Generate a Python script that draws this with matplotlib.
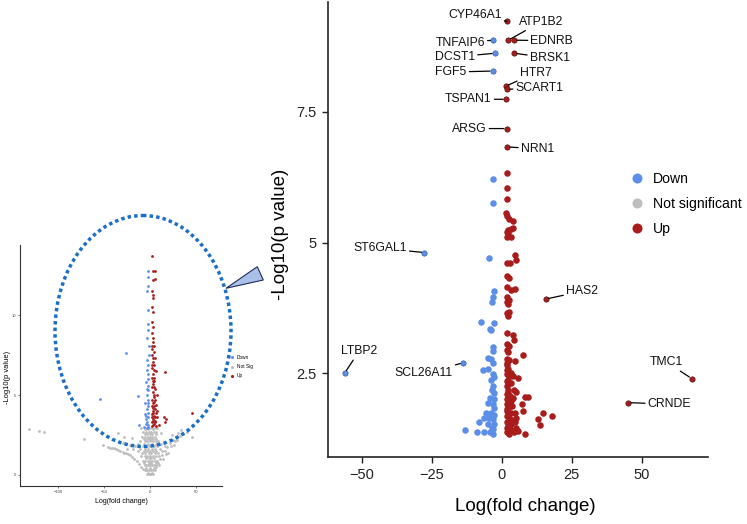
import numpy as np
import matplotlib
matplotlib.use('Agg')
import matplotlib.pyplot as plt
from matplotlib.patches import Ellipse, Polygon
from matplotlib.lines import Line2D

plt.rcParams['font.family'] = ['Liberation Sans', 'DejaVu Sans']

# colours
c_down = '#5b8ee6'
c_ns = '#bdbdbd'
c_up = '#a81c1c'

# ---------------- main volcano data ----------------
down_points = [(-3.0, 6.21), (-3.1, 5.75), (-4.6, 4.71), (-2.7, 4.08), (-3.0, 3.95), (-3.3, 3.87),
               (-7.4, 3.48), (-2.7, 3.46), (-4.3, 3.35), (-3.7, 3.32), (-3.1, 3.01), (-3.0, 2.93),
               (-5.0, 2.80), (-3.8, 2.77), (-3.0, 2.69), (-6.6, 2.57), (-5.0, 2.58), (-3.0, 2.48),
               (-2.7, 2.43), (-3.8, 2.38), (-3.0, 2.26), (-3.6, 2.19), (-2.7, 2.13), (-4.3, 2.03),
               (-2.7, 2.00), (-4.9, 1.94), (-3.1, 1.91), (-2.7, 1.84), (-5.5, 1.75), (-3.8, 1.75),
               (-2.7, 1.71), (-6.4, 1.65), (-4.5, 1.65), (-3.0, 1.62), (-7.9, 1.56), (-5.0, 1.53),
               (-2.7, 1.53), (-3.6, 1.46), (-13.1, 1.42), (-8.9, 1.37), (-6.4, 1.37), (-3.0, 1.34),
               (-3.0, 1.43), (-4.3, 1.37)]

up_points = [(1.8, 6.33), (1.8, 6.05), (1.8, 5.84), (1.5, 5.56), (2.1, 5.51), (2.7, 5.46), (4.1, 5.42),
             (2.4, 5.24), (3.2, 5.25), (3.9, 5.27), (1.8, 5.21), (3.5, 5.11), (1.8, 5.10), (2.4, 5.18),
             (4.7, 4.76), (1.8, 4.61), (5.1, 4.66), (3.0, 4.61), (1.8, 4.36), (2.7, 4.32), (1.8, 4.15),
             (3.5, 4.10), (4.7, 4.11), (1.8, 3.96), (2.7, 3.91), (1.8, 3.86), (2.4, 3.83), (1.8, 3.65),
             (2.7, 3.68), (2.4, 3.60), (1.8, 3.27), (4.1, 3.23), (4.5, 3.13), (1.8, 3.06), (2.7, 3.03),
             (1.8, 2.94), (2.4, 2.91), (1.8, 2.78), (2.7, 2.75), (4.7, 2.74), (7.7, 2.85), (1.8, 2.65),
             (2.4, 2.58), (1.8, 2.48), (2.7, 2.44), (4.1, 2.44), (5.9, 2.41), (1.8, 2.35), (3.2, 2.32),
             (1.8, 2.26), (2.4, 2.19), (4.3, 2.19), (5.3, 2.14), (1.8, 2.10), (3.0, 2.07), (8.3, 2.05),
             (9.3, 2.04), (1.8, 2.00), (3.5, 1.97), (1.8, 1.91), (2.7, 1.86), (7.1, 1.91), (1.8, 1.78),
             (3.2, 1.75), (4.7, 1.75), (7.7, 1.78), (1.8, 1.69), (2.7, 1.64), (5.3, 1.65), (14.6, 1.74),
             (17.9, 1.69), (13.0, 1.62), (13.8, 1.52), (1.8, 1.56), (3.5, 1.53), (4.7, 1.56), (1.8, 1.46),
             (3.0, 1.43), (5.3, 1.46), (1.8, 1.37), (2.7, 1.34), (4.3, 1.37), (8.3, 1.34), (5.9, 1.40),
             (2.4, 2.13), (2.4, 2.38), (1.8, 2.57), (2.2, 1.50), (3.8, 1.60), (2.0, 1.82), (3.6, 1.88),
             (2.2, 2.30), (3.4, 2.50), (2.0, 2.70), (3.2, 1.42), (2.6, 1.98), (4.0, 2.02)]

genes = ['CYP46A1', 'ATP1B2', 'EDNRB', 'TNFAIP6', 'DCST1', 'BRSK1', 'FGF5', 'HTR7', 'SCART1',
         'TSPAN1', 'ARSG', 'NRN1', 'ST6GAL1', 'HAS2', 'LTBP2', 'SCL26A11', 'TMC1', 'CRNDE']
gene_fc = [1.9, 2.4, 4.5, -3.0, -2.4, 4.5, -3.2, 1.5, 1.8, 1.5, 1.8, 2.0, -27.6, 15.8, -56.0, -13.8, 67.9, 45.2]
gene_p = [9.23, 8.87, 8.87, 8.87, 8.62, 8.62, 8.28, 7.99, 7.93, 7.74, 7.18, 6.83, 4.81, 3.92, 2.51, 2.70, 2.40, 1.94]

# where each gene name sits (data coords, alignment)
label_pos = {'CYP46A1': (0.0, 9.35, 'right'), 'ATP1B2': (6.2, 9.22, 'left'),
             'EDNRB': (10.3, 8.86, 'left'), 'TNFAIP6': (-6.0, 8.82, 'right'),
             'DCST1': (-9.5, 8.55, 'right'), 'BRSK1': (10.1, 8.53, 'left'),
             'FGF5': (-12.5, 8.26, 'right'), 'HTR7': (6.5, 8.25, 'left'),
             'SCART1': (5.0, 7.96, 'left'), 'TSPAN1': (-3.6, 7.74, 'right'),
             'ARSG': (-5.4, 7.18, 'right'), 'NRN1': (6.9, 6.79, 'left'),
             'ST6GAL1': (-33.9, 4.89, 'right'), 'HAS2': (23.0, 4.07, 'left'),
             'LTBP2': (-50.9, 2.92, 'center'), 'SCL26A11': (-17.5, 2.50, 'right'),
             'TMC1': (59.0, 2.71, 'center'), 'CRNDE': (52.2, 1.91, 'left')}

# ---------------- inset (full volcano) data ----------------
inset_up = [(2.5, 13.7), (3.6, 12.77), (5.5, 12.77), (2.9, 12.23), (5.5, 12.27), (2.7, 11.5), (3.3, 11.3),
            (3.0, 11.1), (2.5, 10.5), (2.9, 10.2), (2.5, 9.6), (3.6, 9.29), (2.6, 8.9), (3.4, 8.6),
            (2.8, 8.3), (4.5, 8.1), (2.4, 7.9), (3.8, 7.7), (2.7, 7.5), (5.2, 7.3), (3.0, 7.1), (4.2, 6.9),
            (2.5, 6.7), (16.4, 6.46), (6.1, 6.5), (3.3, 6.3), (2.6, 6.1), (4.8, 5.9), (3.5, 5.7), (2.4, 5.5),
            (5.6, 5.4), (3.0, 5.2), (7.2, 5.0), (4.1, 4.9), (2.6, 4.7), (3.6, 4.5), (6.3, 4.4), (2.8, 4.2),
            (5.0, 4.1), (8.1, 4.0), (3.4, 3.9), (45.5, 3.9), (2.5, 3.8), (4.4, 3.7), (7.5, 3.6), (15.0, 3.6),
            (17.5, 3.5), (16.0, 3.3), (3.0, 3.5), (5.8, 3.4), (2.6, 3.3), (4.0, 3.2), (9.5, 3.15), (3.3, 3.1),
            (2.2, 3.05), (6.5, 3.05), (5.0, 3.3), (3.8, 4.6), (2.9, 5.9), (4.4, 6.1), (3.1, 7.3), (2.7, 8.1),
            (3.8, 5.0), (2.3, 4.3), (4.9, 3.6), (3.6, 3.4), (5.5, 4.7), (4.7, 5.5), (2.4, 6.9), (3.9, 6.6),
            (2.2, 3.6), (6.9, 3.9), (4.2, 4.3), (3.0, 4.0)]
inset_down = [(-2.5, 12.75), (-1.8, 12.4), (-2.5, 11.83), (-3.5, 11.5), (-1.8, 9.48), (-2.2, 9.1),
              (-3.0, 8.6), (-26.2, 7.65), (-1.6, 7.5), (-2.8, 7.2), (-1.9, 6.9), (-3.6, 6.6), (-2.2, 6.3),
              (-1.7, 6.0), (-4.5, 5.8), (-2.6, 5.6), (-1.9, 5.3), (-12.7, 4.96), (-3.1, 5.0), (-54.6, 4.73),
              (-2.3, 4.7), (-5.2, 4.5), (-1.8, 4.3), (-3.5, 4.1), (-2.4, 3.9), (-6.0, 3.8), (-1.7, 3.6),
              (-3.9, 3.5), (-2.8, 3.3), (-12.0, 3.1), (-1.9, 3.1), (-4.8, 3.2), (-2.2, 3.0), (-7.0, 3.0),
              (-3.3, 2.95), (-4.1, 3.7), (-2.0, 4.5), (-3.0, 5.4), (-1.6, 8.1), (-2.6, 10.3)]
inset_ns = [(-3, 0.05), (-1.5, 0.05), (0, 0.05), (1.5, 0.05), (3, 0.05),
            (-5, 0.3), (-3, 0.3), (-1, 0.3), (1, 0.3), (3, 0.3), (5, 0.3),
            (-6, 0.6), (-4, 0.6), (-2, 0.6), (0, 0.6), (2, 0.6), (4, 0.6), (6, 0.6),
            (-8, 0.9), (-5, 0.9), (-2.5, 0.9), (0, 0.9), (2.5, 0.9), (5, 0.9), (8, 0.9),
            (-10, 1.2), (-6, 1.2), (-3, 1.2), (0, 1.2), (3, 1.2), (6, 1.2), (10, 1.2),
            (-13, 1.5), (-7, 1.5), (-3.5, 1.5), (0, 1.5), (3.5, 1.5), (7, 1.5), (13, 1.5),
            (-16, 1.8), (-8, 1.8), (-4, 1.8), (-1, 1.8), (1, 1.8), (4, 1.8), (8, 1.8), (16, 1.8),
            (-11, 2.1), (-6, 2.1), (-3, 2.1), (0, 2.1), (3, 2.1), (6, 2.1), (9, 2.1),
            (-9, 2.4), (-5, 2.4), (-2, 2.4), (0, 2.4), (2, 2.4), (5, 2.4),
            (-8, 2.7), (-4, 2.7), (-1.5, 2.7), (1.5, 2.7), (4, 2.7), (7, 2.7),
            (-10, 2.95), (-5, 2.95), (-1, 2.95), (1, 2.95), (5, 2.95), (8, 2.95),
            (-2, 0.15), (2, 0.15), (-4, 0.45), (0, 0.45), (4, 0.45), (-7, 0.75), (-1, 0.75), (1, 0.75),
            (7, 0.75), (-4, 1.05), (-1.5, 1.05), (1.5, 1.05), (4, 1.05), (-9, 1.35), (-5, 1.35), (-1.5, 1.35),
            (1.5, 1.35), (5, 1.35), (9, 1.35), (-11, 1.65), (-5.5, 1.65), (-2, 1.65), (2, 1.65), (5.5, 1.65),
            (11, 1.65), (-13, 1.95), (-7, 1.95), (-2, 1.95), (2, 1.95), (7, 1.95), (12, 1.95),
            (-7, 2.25), (-3.5, 2.25), (-1, 2.25), (1, 2.25), (3.5, 2.25), (7, 2.25),
            (-6, 2.55), (-3, 2.55), (-0.5, 2.55), (2.5, 2.55), (6, 2.55), (-6, 2.85), (-2.5, 2.85), (3, 2.85),
            (-51, 1.88), (-46, 1.78), (-42, 1.70), (-37, 1.60), (-33, 1.50), (-28, 1.40), (-24, 1.30),
            (-20, 1.15), (-17, 1.00), (-14, 0.85), (-12, 0.70), (-10, 0.50), (-8, 0.35),
            (-44, 1.72), (-39, 1.66), (-35, 1.55), (-30, 1.46), (-26, 1.36), (-22, 1.22),
            (-30, 2.0), (-22, 1.9), (-19, 1.6), (-25, 1.65), (-20, 2.3),
            (40, 2.70), (34, 2.81), (31, 2.60), (28, 2.40), (25, 2.20), (22, 2.00), (19, 1.75), (16, 1.50),
            (13, 1.25), (11, 1.00), (9, 0.75), (7, 0.50), (30, 2.2), (26, 1.9), (20, 1.4), (24, 2.5),
            (36, 2.55), (33, 2.45), (27, 2.1), (23, 1.8), (17, 1.3), (14, 1.0), (10, 0.6),
            (-132, 2.85), (-121, 2.75), (-115.5, 2.67), (-71.7, 2.25), (-34.5, 2.65), (-28.3, 2.35),
            (45.5, 2.4), (12, 2.6)]

W, H = 747, 524
fig = plt.figure(figsize=(W / 100, H / 100), dpi=100)

def px_rect(l, t, r, b):
    return [l / W, 1 - b / H, (r - l) / W, (b - t) / H]

# ---------------- main plot ----------------
ax = fig.add_axes(px_rect(328, 2, 708, 457))
dx, dy = np.array(down_points).T
ux, uy = np.array(up_points).T
ax.scatter(dx, dy, s=22, color=c_down, lw=0, zorder=2)
ax.scatter(ux, uy, s=22, color=c_up, lw=0, zorder=2)

for g, fc, p in zip(genes, gene_fc, gene_p):
    col = c_up if fc > 0 else c_down
    ax.scatter([fc], [p], s=15, color=col, edgecolor='#3a0b0b' if fc > 0 else '#2c4f8f', lw=0.4, zorder=3)
    tx, ty, ha = label_pos[g]
    ax.annotate(g, xy=(fc, p), xytext=(tx, ty), ha=ha, va='center', fontsize=8.8, color='#111111',
                arrowprops=dict(arrowstyle='-', color='black', lw=0.9, shrinkA=0, shrinkB=2))

ax.set_xlim(-62, 73.7)
ax.set_ylim(0.9, 9.6)
ax.set_xticks([-50, -25, 0, 25, 50])
ax.set_yticks([2.5, 5, 7.5])
ax.set_yticklabels(['2.5', '5', '7.5'])
for s in ['top', 'right']:
    ax.spines[s].set_visible(False)
for s in ['left', 'bottom']:
    ax.spines[s].set_linewidth(1.2)
    ax.spines[s].set_color('#222222')
ax.tick_params(labelsize=10.5, length=4, width=1, colors='#222222', pad=4)
ax.set_xlabel('Log(fold change)', fontsize=13.5)
ax.xaxis.set_label_coords(0.52, -0.09)
ax.set_ylabel('-Log10(p value)', fontsize=13.5)
ax.yaxis.set_label_coords(-0.103, 0.49)

handles = [Line2D([], [], ls='', marker='o', ms=7.2, mew=0, color=c) for c in [c_down, c_ns, c_up]]
ax.legend(handles, ['Down', 'Not significant', 'Up'], loc='center left',
          bbox_to_anchor=(630 / W, 1 - 204 / H), bbox_transform=fig.transFigure,
          frameon=False, fontsize=10.1, handlelength=1.0, handletextpad=0.65, labelspacing=0.78,
          borderpad=0, borderaxespad=0)

# ---------------- inset ----------------
ai = fig.add_axes(px_rect(20, 245, 222, 486))
nx, ny = np.array(inset_ns).T
ix, iy = np.array(inset_down).T
jx, jy = np.array(inset_up).T
ai.scatter(nx, ny, s=4, color=c_ns, lw=0)
ai.scatter(ix, iy, s=4, color=c_down, lw=0)
ai.scatter(jx, jy, s=4, color=c_up, lw=0)
ai.set_xlim(-142, 78.6)
ai.set_ylim(-0.69, 14.4)
ai.set_xticks([-100, -50, 0, 50])
ai.set_yticks([0, 5, 10])
for s in ['top', 'right']:
    ai.spines[s].set_visible(False)
for s in ['left', 'bottom']:
    ai.spines[s].set_linewidth(0.8)
    ai.spines[s].set_color('#333333')
ai.tick_params(labelsize=3, length=1.5, width=0.5, colors='#444444', pad=1.5)
ai.set_xlabel('Log(fold change)', fontsize=5, labelpad=3)
ai.set_ylabel('-Log10(p value)', fontsize=5.4)
ai.yaxis.set_label_coords(-0.045, 0.45)
h2 = [Line2D([], [], ls='', marker='o', ms=2.2, mew=0, color=c) for c in [c_down, c_ns, c_up]]
ai.legend(h2, ['Down', 'Not Sig', 'Up'], loc='center left',
          bbox_to_anchor=(230 / W, 1 - 366.7 / H), bbox_transform=fig.transFigure,
          frameon=False, fontsize=3.4, handlelength=0.8, handletextpad=0.6, labelspacing=0.9,
          borderpad=0, borderaxespad=0)

# ---------------- ellipse + callout overlay ----------------
ov = fig.add_axes([0, 0, 1, 1], zorder=5)
ov.set_xlim(0, W)
ov.set_ylim(H, 0)
ov.axis('off')
ov.add_patch(Ellipse((143, 331), 176, 231, fill=False, ec='#1a6fc9', lw=2.5, ls=(0, (1, 0.9))))
ov.add_patch(Polygon([(226, 288.3), (257.3, 266.7), (263.3, 280)], closed=True,
                     fc='#a9c0e8', ec='#1f2d5a', lw=0.8))

fig.savefig('out.png', dpi=100)
